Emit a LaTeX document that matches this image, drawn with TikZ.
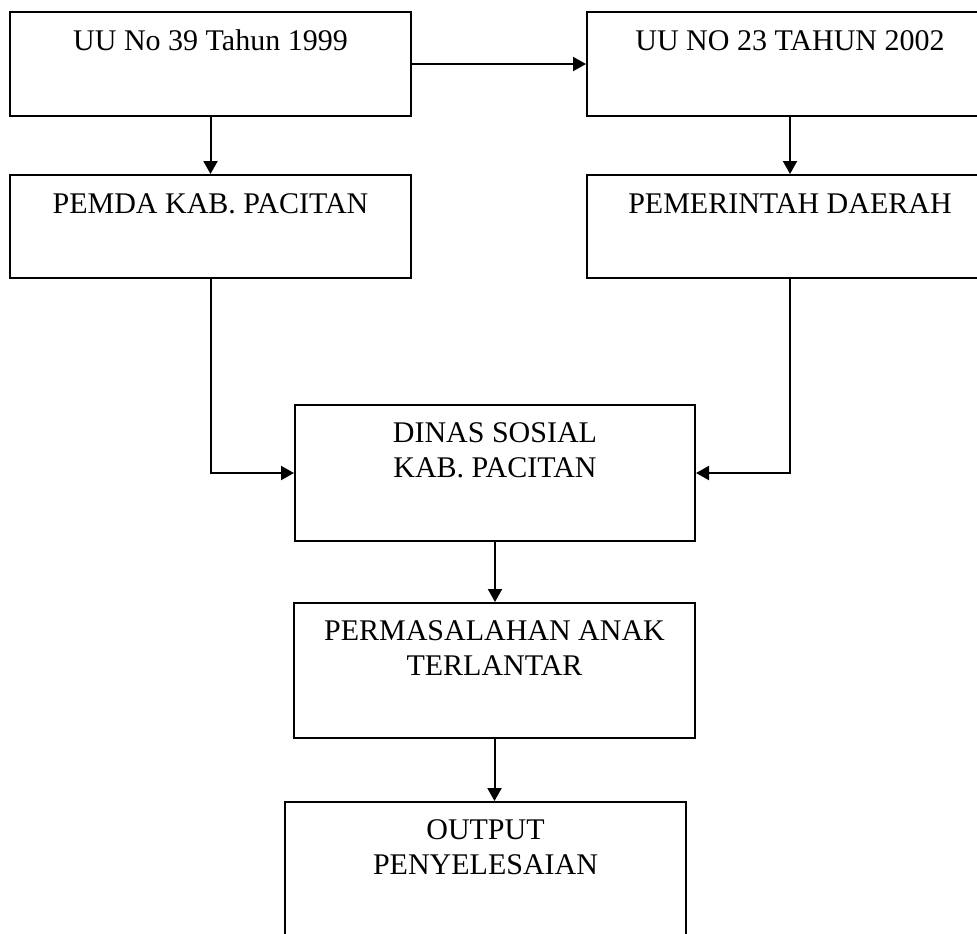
\documentclass[tikz,border=0pt]{standalone}
\usepackage{fontspec}
\setmainfont{Liberation Serif}
\usepackage{tikz}
\usetikzlibrary{arrows.meta}

\tikzset{
    box/.style={draw, line width=1pt, rectangle, minimum width=200.5pt, inner sep=0pt},
    lbl/.style={anchor=base, align=center, inner sep=0pt, font=\fontsize{15}{17.5}\selectfont},
    arr/.style={line width=1pt, -{Triangle[length=6.5pt,width=7pt]}}
}

\begin{document}
\begin{tikzpicture}[x=0.5pt,y=-0.5pt]
    \useasboundingbox (0,0) rectangle (977,933);
    \clip (0,0) rectangle (977,933);
    \node[box, minimum height=52pt] (uu39) at (210.5,64) {};
    \node[box, minimum width=203pt, minimum height=52pt] (uu23) at (790,64) {};
    \node[box, minimum height=51.5pt] (pemda) at (210.5,226.5) {};
    \node[box, minimum width=203pt, minimum height=51.5pt] (pemdaerah) at (790,226.5) {};
    \node[box, minimum width=200pt, minimum height=68pt] (dinas) at (495,473) {};
    \node[box, minimum height=67.5pt] (masalah) at (494.5,670.5) {};
    \node[box, minimum height=70pt] (output) at (485.5,872) {};

    \node[lbl] (uu39t) at ([yshift=-19.5pt]uu39.north) {UU No 39 Tahun 1999};
    \node[lbl] (uu23t) at ([yshift=-19.5pt]uu23.north) {UU NO 23 TAHUN 2002};
    \node[lbl] (pemdat) at ([yshift=-19.5pt]pemda.north) {PEMDA KAB. PACITAN};
    \node[lbl] (pemdaeraht) at ([yshift=-19.5pt]pemdaerah.north) {PEMERINTAH DAERAH};
    \node[lbl] (dinast) at ([yshift=-36.5pt]dinas.north) {DINAS SOSIAL\\KAB. PACITAN};
    \node[lbl] (masalaht) at ([yshift=-36.5pt]masalah.north) {PERMASALAHAN ANAK\\TERLANTAR};
    \node[lbl] (outputt) at ([yshift=-36.5pt]output.north) {OUTPUT\\PENYELESAIAN};

    \draw[arr] (uu39.east) -- (uu23.west);
    \draw[arr] (uu39.south) -- (pemda.north);
    \draw[arr] (uu23.south) -- (pemdaerah.north);
    \draw[arr] (pemda.south) |- (dinas.west);
    \draw[arr] (pemdaerah.south) |- (dinas.east);
    \draw[arr] (dinas.south) -- (dinas.south |- masalah.north);
    \draw[arr] (masalah.south) -- (masalah.south |- output.north);
\end{tikzpicture}
\end{document}
